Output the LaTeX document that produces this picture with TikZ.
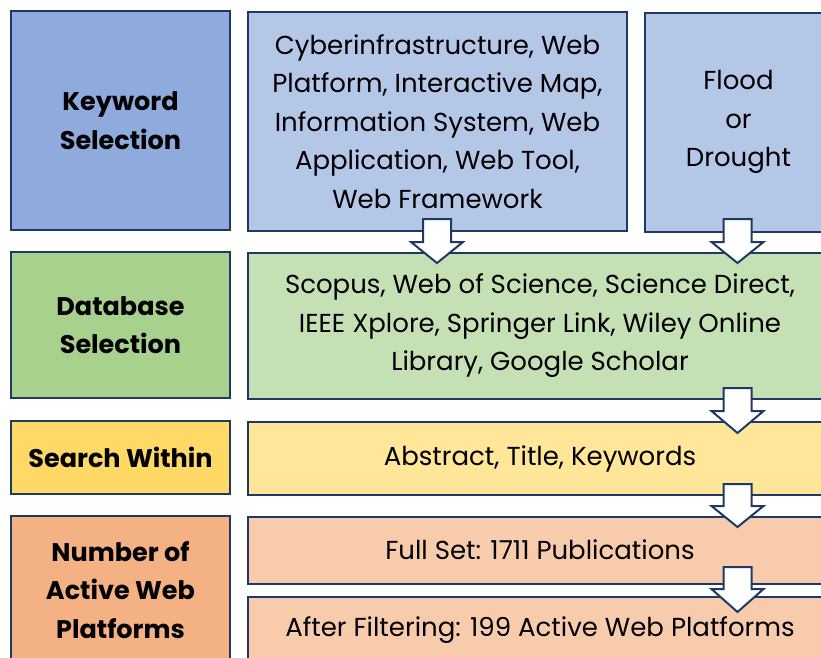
\documentclass[tikz,border=0pt]{standalone}
\usepackage{fontspec}
\setmainfont{Poppins}
\definecolor{bord}{HTML}{1F3864}
\definecolor{kwc}{HTML}{8FAADC}
\definecolor{kwl}{HTML}{B4C7E7}
\definecolor{dbc}{HTML}{A9D18E}
\definecolor{dbl}{HTML}{C5E0B4}
\definecolor{swc}{HTML}{FFD966}
\definecolor{swl}{HTML}{FFE699}
\definecolor{nmc}{HTML}{F4B183}
\definecolor{nml}{HTML}{F8CBAD}
\newcommand{\blockarr}[4]{%
  \draw[arr] (#1-14,#2) -- (#1+14,#2) -- (#1+14,#3) -- (#1+26,#3) -- (#1,#4) -- (#1-26,#3) -- (#1-14,#3) -- cycle;}
\begin{document}
\begin{tikzpicture}[x=1pt,y=-1pt,
  box/.style={draw=bord,line width=2pt,inner sep=0pt,align=center,
    font=\fontsize{26}{38.5}\selectfont},
  lab/.style={box,font=\fontsize{25.5}{38.5}\selectfont\bfseries},
  arr/.style={draw=bord,fill=white,line width=2pt,line join=miter}]
\useasboundingbox (0,0) rectangle (821,657);
\clip (0,0) rectangle (821,657);
\node[lab,fill=kwc,minimum width=219,minimum height=219] (kw) at (120.5,120.5) {Keyword\\Selection};
\node[box,fill=kwl,minimum width=379,minimum height=219] (kwlist) at (437.5,121.5) {Cyberinfrastructure, Web\\Platform, Interactive Map,\\Information System, Web\\Application, Web Tool,\\Web Framework};
\node[box,fill=kwl,minimum width=187,minimum height=219] (flood) at (738.5,122) {Flood\\or\\Drought};
\node[lab,fill=dbc,minimum width=219,minimum height=146] (db) at (120.5,325) {Database\\Selection};
\node[box,fill=dbl,minimum width=584,minimum height=146] (dblist) at (540,326) {Scopus, Web of Science, Science Direct,\\IEEE Xplore, Springer Link, Wiley Online\\Library, Google Scholar};
\node[lab,fill=swc,minimum width=219,minimum height=73] (sw) at (120.5,457.5) {Search Within};
\node[box,fill=swl,minimum width=584,minimum height=73] (swlist) at (540,458.5) {Abstract, Title, Keywords};
\node[lab,fill=nmc,minimum width=219,minimum height=148] (num) at (120.5,590) {Number of\\Active Web\\Platforms};
\node[box,fill=nml,minimum width=584,minimum height=67] (full) at (540,550) {Full Set: 1711 Publications};
\node[box,fill=nml,minimum width=584,minimum height=67] (after) at (540,630.5) {After Filtering: 199 Active Web Platforms};
\blockarr{437}{219}{242}{263}
\blockarr{737.5}{219}{242}{263}
\blockarr{737.5}{388}{411}{433}
\blockarr{737.5}{484}{506}{527}
\blockarr{737.5}{567}{589}{612}
\end{tikzpicture}
\end{document}
